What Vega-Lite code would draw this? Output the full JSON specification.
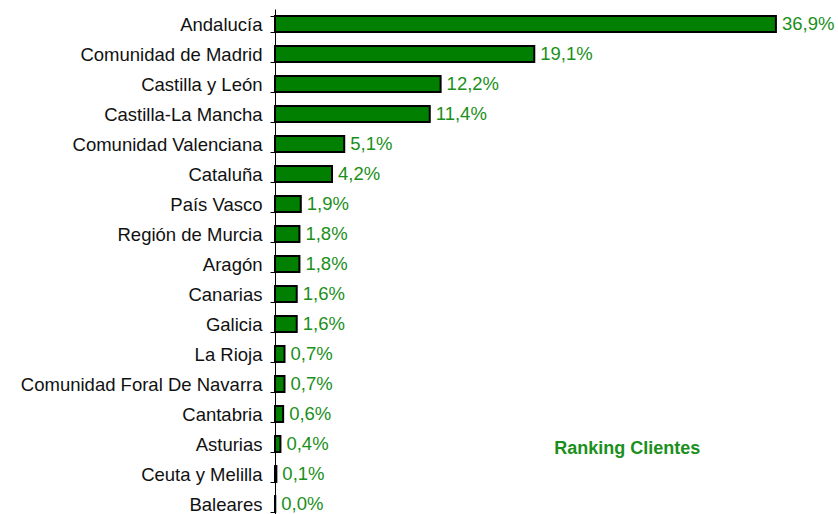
{
  "$schema": "https://vega.github.io/schema/vega-lite/v6.json",
  "autosize": "none",
  "width": 543,
  "height": 510,
  "padding": {"left": 275, "top": 9, "right": 20, "bottom": 0},
  "config": {
    "locale": {"number": {"decimal": ",", "thousands": ".", "grouping": [3], "currency": ["", " €"]}},
    "view": {"stroke": null},
    "font": "Liberation Sans"
  },
  "data": {
    "values": [
      {"region": "Andalucía", "share": 0.369},
      {"region": "Comunidad de Madrid", "share": 0.191},
      {"region": "Castilla y León", "share": 0.122},
      {"region": "Castilla-La Mancha", "share": 0.114},
      {"region": "Comunidad Valenciana", "share": 0.051},
      {"region": "Cataluña", "share": 0.042},
      {"region": "País Vasco", "share": 0.019},
      {"region": "Región de Murcia", "share": 0.018},
      {"region": "Aragón", "share": 0.018},
      {"region": "Canarias", "share": 0.016},
      {"region": "Galicia", "share": 0.016},
      {"region": "La Rioja", "share": 0.007},
      {"region": "Comunidad Foral De Navarra", "share": 0.007},
      {"region": "Cantabria", "share": 0.006},
      {"region": "Asturias", "share": 0.004},
      {"region": "Ceuta y Melilla", "share": 0.001},
      {"region": "Baleares", "share": 0.0002}
    ]
  },
  "encoding": {
    "y": {
      "field": "region", "type": "nominal", "sort": null,
      "scale": {"paddingInner": 0.47, "paddingOuter": 0.235},
      "axis": {
        "title": null, "tickBand": "extent", "tickSize": 5, "tickColor": "#000", "domainColor": "#000",
        "domainWidth": 1, "tickWidth": 1, "labelFontSize": 18.5, "labelColor": "#111", "labelPadding": 8,
        "labelFont": "Liberation Sans", "labelLimit": 300
      }
    },
    "x": {
      "field": "share", "type": "quantitative",
      "scale": {"domain": [0, 0.4], "nice": false},
      "axis": null
    }
  },
  "layer": [
    {"mark": {"type": "bar", "fill": "#007f00", "stroke": "#000", "strokeWidth": 2}},
    {
      "mark": {"type": "text", "align": "left", "baseline": "middle", "dx": 6, "fontSize": 18.5, "color": "#1a8f1a", "font": "Liberation Sans"},
      "encoding": {"text": {"field": "share", "type": "quantitative", "format": ".1%"}}
    },
    {
      "data": {"values": [{"region": "Asturias", "share": 0.2595, "label": "Ranking Clientes"}]},
      "mark": {"type": "text", "align": "center", "baseline": "middle", "dy": 5, "fontSize": 18, "fontWeight": "bold", "color": "#1a8f1a", "font": "Liberation Sans"},
      "encoding": {"text": {"field": "label"}}
    }
  ]
}
